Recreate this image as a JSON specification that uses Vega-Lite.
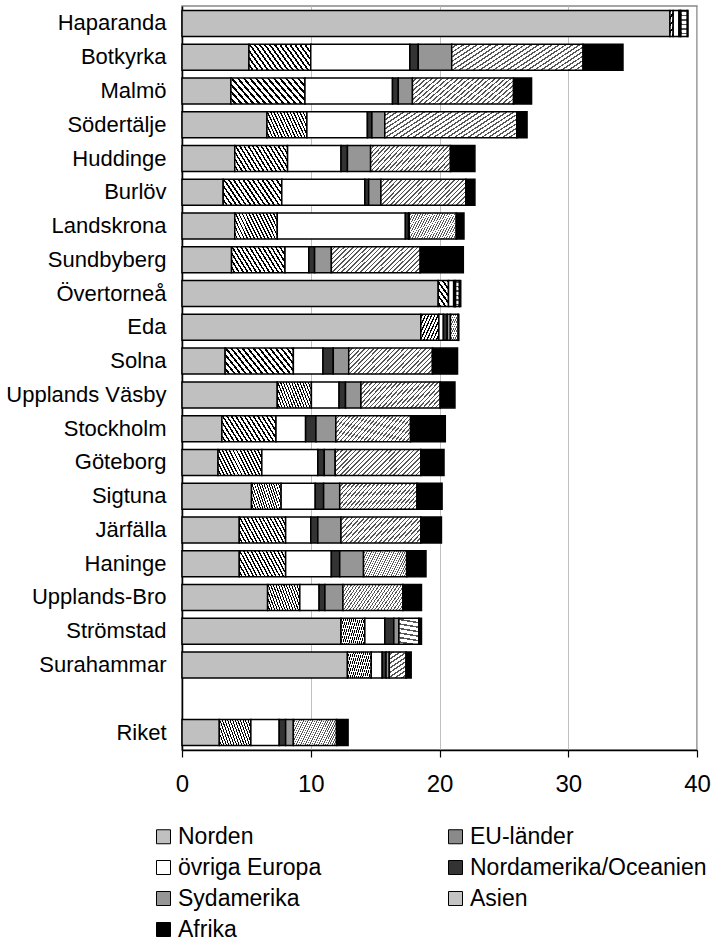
{
  "$schema": "https://vega.github.io/schema/vega-lite/v6.json",
  "width": 515,
  "height": 744,
  "autosize": {"type": "none"},
  "padding": {"left": 182, "top": 6, "right": 30, "bottom": 190},
  "config": {
    "font": "Liberation Sans",
    "view": {"stroke": "#888888", "strokeWidth": 1.5},
    "axis": {"labelColor": "black", "domainColor": "black", "tickColor": "black"},
    "legend": {"symbolStrokeColor": "black", "symbolStrokeWidth": 1}
  },
  "data": {
    "values": [
      {"kommun": "Haparanda", "region": "Norden", "andel": 37.9},
      {"kommun": "Haparanda", "region": "EU-länder", "andel": 0.25},
      {"kommun": "Haparanda", "region": "övriga Europa", "andel": 0.45},
      {"kommun": "Haparanda", "region": "Nordamerika/Oceanien", "andel": 0.1},
      {"kommun": "Haparanda", "region": "Sydamerika", "andel": 0.05},
      {"kommun": "Haparanda", "region": "Asien", "andel": 0.5},
      {"kommun": "Haparanda", "region": "Afrika", "andel": 0.05},
      {"kommun": "Botkyrka", "region": "Norden", "andel": 5.2},
      {"kommun": "Botkyrka", "region": "EU-länder", "andel": 4.8},
      {"kommun": "Botkyrka", "region": "övriga Europa", "andel": 7.7},
      {"kommun": "Botkyrka", "region": "Nordamerika/Oceanien", "andel": 0.65},
      {"kommun": "Botkyrka", "region": "Sydamerika", "andel": 2.6},
      {"kommun": "Botkyrka", "region": "Asien", "andel": 10.2},
      {"kommun": "Botkyrka", "region": "Afrika", "andel": 3.1},
      {"kommun": "Malmö", "region": "Norden", "andel": 3.8},
      {"kommun": "Malmö", "region": "EU-länder", "andel": 5.75},
      {"kommun": "Malmö", "region": "övriga Europa", "andel": 6.8},
      {"kommun": "Malmö", "region": "Nordamerika/Oceanien", "andel": 0.45},
      {"kommun": "Malmö", "region": "Sydamerika", "andel": 1.1},
      {"kommun": "Malmö", "region": "Asien", "andel": 7.85},
      {"kommun": "Malmö", "region": "Afrika", "andel": 1.4},
      {"kommun": "Södertälje", "region": "Norden", "andel": 6.6},
      {"kommun": "Södertälje", "region": "EU-länder", "andel": 3.1},
      {"kommun": "Södertälje", "region": "övriga Europa", "andel": 4.7},
      {"kommun": "Södertälje", "region": "Nordamerika/Oceanien", "andel": 0.35},
      {"kommun": "Södertälje", "region": "Sydamerika", "andel": 1.0},
      {"kommun": "Södertälje", "region": "Asien", "andel": 10.25},
      {"kommun": "Södertälje", "region": "Afrika", "andel": 0.8},
      {"kommun": "Huddinge", "region": "Norden", "andel": 4.1},
      {"kommun": "Huddinge", "region": "EU-länder", "andel": 4.1},
      {"kommun": "Huddinge", "region": "övriga Europa", "andel": 4.15},
      {"kommun": "Huddinge", "region": "Nordamerika/Oceanien", "andel": 0.5},
      {"kommun": "Huddinge", "region": "Sydamerika", "andel": 1.8},
      {"kommun": "Huddinge", "region": "Asien", "andel": 6.2},
      {"kommun": "Huddinge", "region": "Afrika", "andel": 1.9},
      {"kommun": "Burlöv", "region": "Norden", "andel": 3.2},
      {"kommun": "Burlöv", "region": "EU-länder", "andel": 4.55},
      {"kommun": "Burlöv", "region": "övriga Europa", "andel": 6.45},
      {"kommun": "Burlöv", "region": "Nordamerika/Oceanien", "andel": 0.3},
      {"kommun": "Burlöv", "region": "Sydamerika", "andel": 0.95},
      {"kommun": "Burlöv", "region": "Asien", "andel": 6.6},
      {"kommun": "Burlöv", "region": "Afrika", "andel": 0.7},
      {"kommun": "Landskrona", "region": "Norden", "andel": 4.1},
      {"kommun": "Landskrona", "region": "EU-länder", "andel": 3.3},
      {"kommun": "Landskrona", "region": "övriga Europa", "andel": 9.95},
      {"kommun": "Landskrona", "region": "Nordamerika/Oceanien", "andel": 0.25},
      {"kommun": "Landskrona", "region": "Sydamerika", "andel": 0.05},
      {"kommun": "Landskrona", "region": "Asien", "andel": 3.65},
      {"kommun": "Landskrona", "region": "Afrika", "andel": 0.6},
      {"kommun": "Sundbyberg", "region": "Norden", "andel": 3.85},
      {"kommun": "Sundbyberg", "region": "EU-länder", "andel": 4.15},
      {"kommun": "Sundbyberg", "region": "övriga Europa", "andel": 1.85},
      {"kommun": "Sundbyberg", "region": "Nordamerika/Oceanien", "andel": 0.45},
      {"kommun": "Sundbyberg", "region": "Sydamerika", "andel": 1.3},
      {"kommun": "Sundbyberg", "region": "Asien", "andel": 6.9},
      {"kommun": "Sundbyberg", "region": "Afrika", "andel": 3.35},
      {"kommun": "Övertorneå", "region": "Norden", "andel": 19.9},
      {"kommun": "Övertorneå", "region": "EU-länder", "andel": 0.8},
      {"kommun": "Övertorneå", "region": "övriga Europa", "andel": 0.4},
      {"kommun": "Övertorneå", "region": "Nordamerika/Oceanien", "andel": 0.1},
      {"kommun": "Övertorneå", "region": "Sydamerika", "andel": 0.05},
      {"kommun": "Övertorneå", "region": "Asien", "andel": 0.3},
      {"kommun": "Övertorneå", "region": "Afrika", "andel": 0.1},
      {"kommun": "Eda", "region": "Norden", "andel": 18.55},
      {"kommun": "Eda", "region": "EU-länder", "andel": 1.4},
      {"kommun": "Eda", "region": "övriga Europa", "andel": 0.35},
      {"kommun": "Eda", "region": "Nordamerika/Oceanien", "andel": 0.3},
      {"kommun": "Eda", "region": "Sydamerika", "andel": 0.25},
      {"kommun": "Eda", "region": "Asien", "andel": 0.6},
      {"kommun": "Eda", "region": "Afrika", "andel": 0.05},
      {"kommun": "Solna", "region": "Norden", "andel": 3.35},
      {"kommun": "Solna", "region": "EU-länder", "andel": 5.3},
      {"kommun": "Solna", "region": "övriga Europa", "andel": 2.3},
      {"kommun": "Solna", "region": "Nordamerika/Oceanien", "andel": 0.8},
      {"kommun": "Solna", "region": "Sydamerika", "andel": 1.2},
      {"kommun": "Solna", "region": "Asien", "andel": 6.5},
      {"kommun": "Solna", "region": "Afrika", "andel": 1.95},
      {"kommun": "Upplands Väsby", "region": "Norden", "andel": 7.4},
      {"kommun": "Upplands Väsby", "region": "EU-länder", "andel": 2.65},
      {"kommun": "Upplands Väsby", "region": "övriga Europa", "andel": 2.15},
      {"kommun": "Upplands Väsby", "region": "Nordamerika/Oceanien", "andel": 0.5},
      {"kommun": "Upplands Väsby", "region": "Sydamerika", "andel": 1.2},
      {"kommun": "Upplands Väsby", "region": "Asien", "andel": 6.15},
      {"kommun": "Upplands Väsby", "region": "Afrika", "andel": 1.15},
      {"kommun": "Stockholm", "region": "Norden", "andel": 3.1},
      {"kommun": "Stockholm", "region": "EU-länder", "andel": 4.2},
      {"kommun": "Stockholm", "region": "övriga Europa", "andel": 2.3},
      {"kommun": "Stockholm", "region": "Nordamerika/Oceanien", "andel": 0.8},
      {"kommun": "Stockholm", "region": "Sydamerika", "andel": 1.55},
      {"kommun": "Stockholm", "region": "Asien", "andel": 5.8},
      {"kommun": "Stockholm", "region": "Afrika", "andel": 2.7},
      {"kommun": "Göteborg", "region": "Norden", "andel": 2.8},
      {"kommun": "Göteborg", "region": "EU-länder", "andel": 3.4},
      {"kommun": "Göteborg", "region": "övriga Europa", "andel": 4.35},
      {"kommun": "Göteborg", "region": "Nordamerika/Oceanien", "andel": 0.5},
      {"kommun": "Göteborg", "region": "Sydamerika", "andel": 0.85},
      {"kommun": "Göteborg", "region": "Asien", "andel": 6.65},
      {"kommun": "Göteborg", "region": "Afrika", "andel": 1.8},
      {"kommun": "Sigtuna", "region": "Norden", "andel": 5.4},
      {"kommun": "Sigtuna", "region": "EU-länder", "andel": 2.3},
      {"kommun": "Sigtuna", "region": "övriga Europa", "andel": 2.65},
      {"kommun": "Sigtuna", "region": "Nordamerika/Oceanien", "andel": 0.65},
      {"kommun": "Sigtuna", "region": "Sydamerika", "andel": 1.25},
      {"kommun": "Sigtuna", "region": "Asien", "andel": 6.0},
      {"kommun": "Sigtuna", "region": "Afrika", "andel": 1.95},
      {"kommun": "Järfälla", "region": "Norden", "andel": 4.45},
      {"kommun": "Järfälla", "region": "EU-länder", "andel": 3.6},
      {"kommun": "Järfälla", "region": "övriga Europa", "andel": 1.95},
      {"kommun": "Järfälla", "region": "Nordamerika/Oceanien", "andel": 0.55},
      {"kommun": "Järfälla", "region": "Sydamerika", "andel": 1.8},
      {"kommun": "Järfälla", "region": "Asien", "andel": 6.2},
      {"kommun": "Järfälla", "region": "Afrika", "andel": 1.6},
      {"kommun": "Haninge", "region": "Norden", "andel": 4.45},
      {"kommun": "Haninge", "region": "EU-länder", "andel": 3.6},
      {"kommun": "Haninge", "region": "övriga Europa", "andel": 3.55},
      {"kommun": "Haninge", "region": "Nordamerika/Oceanien", "andel": 0.65},
      {"kommun": "Haninge", "region": "Sydamerika", "andel": 1.85},
      {"kommun": "Haninge", "region": "Asien", "andel": 3.35},
      {"kommun": "Haninge", "region": "Afrika", "andel": 1.5},
      {"kommun": "Upplands-Bro", "region": "Norden", "andel": 6.65},
      {"kommun": "Upplands-Bro", "region": "EU-länder", "andel": 2.5},
      {"kommun": "Upplands-Bro", "region": "övriga Europa", "andel": 1.5},
      {"kommun": "Upplands-Bro", "region": "Nordamerika/Oceanien", "andel": 0.45},
      {"kommun": "Upplands-Bro", "region": "Sydamerika", "andel": 1.4},
      {"kommun": "Upplands-Bro", "region": "Asien", "andel": 4.65},
      {"kommun": "Upplands-Bro", "region": "Afrika", "andel": 1.45},
      {"kommun": "Strömstad", "region": "Norden", "andel": 12.35},
      {"kommun": "Strömstad", "region": "EU-länder", "andel": 1.85},
      {"kommun": "Strömstad", "region": "övriga Europa", "andel": 1.55},
      {"kommun": "Strömstad", "region": "Nordamerika/Oceanien", "andel": 0.7},
      {"kommun": "Strömstad", "region": "Sydamerika", "andel": 0.4},
      {"kommun": "Strömstad", "region": "Asien", "andel": 1.55},
      {"kommun": "Strömstad", "region": "Afrika", "andel": 0.2},
      {"kommun": "Surahammar", "region": "Norden", "andel": 12.85},
      {"kommun": "Surahammar", "region": "EU-länder", "andel": 1.85},
      {"kommun": "Surahammar", "region": "övriga Europa", "andel": 0.85},
      {"kommun": "Surahammar", "region": "Nordamerika/Oceanien", "andel": 0.3},
      {"kommun": "Surahammar", "region": "Sydamerika", "andel": 0.25},
      {"kommun": "Surahammar", "region": "Asien", "andel": 1.3},
      {"kommun": "Surahammar", "region": "Afrika", "andel": 0.4},
      {"kommun": "Riket", "region": "Norden", "andel": 2.9},
      {"kommun": "Riket", "region": "EU-länder", "andel": 2.45},
      {"kommun": "Riket", "region": "övriga Europa", "andel": 2.2},
      {"kommun": "Riket", "region": "Nordamerika/Oceanien", "andel": 0.5},
      {"kommun": "Riket", "region": "Sydamerika", "andel": 0.6},
      {"kommun": "Riket", "region": "Asien", "andel": 3.35},
      {"kommun": "Riket", "region": "Afrika", "andel": 0.9}
    ]
  },
  "transform": [
    {"calculate": "indexof(['Norden','EU-länder','övriga Europa','Nordamerika/Oceanien','Sydamerika','Asien','Afrika'], datum.region)", "as": "ord"}
  ],
  "mark": {"type": "bar", "stroke": "black", "strokeWidth": 1.5},
  "encoding": {
    "y": {
      "field": "kommun",
      "type": "nominal",
      "sort": null,
      "scale": {
        "domain": ["Haparanda", "Botkyrka", "Malmö", "Södertälje", "Huddinge", "Burlöv", "Landskrona", "Sundbyberg", "Övertorneå", "Eda", "Solna", "Upplands Väsby", "Stockholm", "Göteborg", "Sigtuna", "Järfälla", "Haninge", "Upplands-Bro", "Strömstad", "Surahammar", " ", "Riket"],
        "paddingInner": 0.23,
        "paddingOuter": 0.133
      },
      "axis": {"title": null, "ticks": false, "grid": false, "domainColor": "black", "domainWidth": 1.5, "labelFontSize": 22, "labelColor": "black", "labelPadding": 16, "labelFont": "Liberation Sans"}
    },
    "x": {
      "field": "andel",
      "type": "quantitative",
      "stack": "zero",
      "scale": {"domain": [0, 40], "nice": false},
      "axis": {"title": null, "values": [0, 10, 20, 30, 40], "grid": true, "gridColor": "#c0c0c0", "gridWidth": 1, "domainColor": "black", "domainWidth": 1.5, "tickColor": "black", "tickSize": 7, "tickWidth": 1.2, "labelFontSize": 24, "labelColor": "black", "labelPadding": 15, "labelFlush": false, "labelFont": "Liberation Sans"}
    },
    "order": {"field": "ord", "type": "quantitative"},
    "color": {
      "field": "region",
      "type": "nominal",
      "scale": {
        "domain": ["Norden", "EU-länder", "övriga Europa", "Nordamerika/Oceanien", "Sydamerika", "Asien", "Afrika"],
        "range": ["#c0c0c0", "#8a8a8a", "#ffffff", "#333333", "#969696", "#c3c3c3", "#000000"]
      },
      "condition": [
        {"test": "datum.region === 'EU-länder'", "value": {"gradient": "linear", "x1": 0, "y1": 1, "x2": 1.193, "y2": 0.642, "stops": [
          {"offset": 0, "color": "#ffffff"}, {"offset": 0.0375, "color": "#ffffff"}, {"offset": 0.0375, "color": "#000000"}, {"offset": 0.0625, "color": "#000000"},
          {"offset": 0.0625, "color": "#ffffff"}, {"offset": 0.1, "color": "#ffffff"}, {"offset": 0.1, "color": "#000000"}, {"offset": 0.125, "color": "#000000"},
          {"offset": 0.125, "color": "#ffffff"}, {"offset": 0.1625, "color": "#ffffff"}, {"offset": 0.1625, "color": "#000000"}, {"offset": 0.1875, "color": "#000000"},
          {"offset": 0.1875, "color": "#ffffff"}, {"offset": 0.225, "color": "#ffffff"}, {"offset": 0.225, "color": "#000000"}, {"offset": 0.25, "color": "#000000"},
          {"offset": 0.25, "color": "#ffffff"}, {"offset": 0.2875, "color": "#ffffff"}, {"offset": 0.2875, "color": "#000000"}, {"offset": 0.3125, "color": "#000000"},
          {"offset": 0.3125, "color": "#ffffff"}, {"offset": 0.35, "color": "#ffffff"}, {"offset": 0.35, "color": "#000000"}, {"offset": 0.375, "color": "#000000"},
          {"offset": 0.375, "color": "#ffffff"}, {"offset": 0.4125, "color": "#ffffff"}, {"offset": 0.4125, "color": "#000000"}, {"offset": 0.4375, "color": "#000000"},
          {"offset": 0.4375, "color": "#ffffff"}, {"offset": 0.475, "color": "#ffffff"}, {"offset": 0.475, "color": "#000000"}, {"offset": 0.5, "color": "#000000"},
          {"offset": 0.5, "color": "#ffffff"}, {"offset": 0.5375, "color": "#ffffff"}, {"offset": 0.5375, "color": "#000000"}, {"offset": 0.5625, "color": "#000000"},
          {"offset": 0.5625, "color": "#ffffff"}, {"offset": 0.6, "color": "#ffffff"}, {"offset": 0.6, "color": "#000000"}, {"offset": 0.625, "color": "#000000"},
          {"offset": 0.625, "color": "#ffffff"}, {"offset": 0.6625, "color": "#ffffff"}, {"offset": 0.6625, "color": "#000000"}, {"offset": 0.6875, "color": "#000000"},
          {"offset": 0.6875, "color": "#ffffff"}, {"offset": 0.725, "color": "#ffffff"}, {"offset": 0.725, "color": "#000000"}, {"offset": 0.75, "color": "#000000"},
          {"offset": 0.75, "color": "#ffffff"}, {"offset": 0.7875, "color": "#ffffff"}, {"offset": 0.7875, "color": "#000000"}, {"offset": 0.8125, "color": "#000000"},
          {"offset": 0.8125, "color": "#ffffff"}, {"offset": 0.85, "color": "#ffffff"}, {"offset": 0.85, "color": "#000000"}, {"offset": 0.875, "color": "#000000"},
          {"offset": 0.875, "color": "#ffffff"}, {"offset": 0.9125, "color": "#ffffff"}, {"offset": 0.9125, "color": "#000000"}, {"offset": 0.9375, "color": "#000000"},
          {"offset": 0.9375, "color": "#ffffff"}, {"offset": 0.975, "color": "#ffffff"}, {"offset": 0.975, "color": "#000000"}, {"offset": 1, "color": "#000000"}
        ]}},
        {"test": "datum.region === 'Asien'", "value": {"gradient": "linear", "x1": 0, "y1": 0, "x2": 1.193, "y2": 0.358, "stops": [
          {"offset": 0, "color": "#ffffff"}, {"offset": 0.026, "color": "#ffffff"}, {"offset": 0.026, "color": "#555555"}, {"offset": 0.04, "color": "#555555"},
          {"offset": 0.04, "color": "#ffffff"}, {"offset": 0.066, "color": "#ffffff"}, {"offset": 0.066, "color": "#555555"}, {"offset": 0.08, "color": "#555555"},
          {"offset": 0.08, "color": "#ffffff"}, {"offset": 0.106, "color": "#ffffff"}, {"offset": 0.106, "color": "#555555"}, {"offset": 0.12, "color": "#555555"},
          {"offset": 0.12, "color": "#ffffff"}, {"offset": 0.146, "color": "#ffffff"}, {"offset": 0.146, "color": "#555555"}, {"offset": 0.16, "color": "#555555"},
          {"offset": 0.16, "color": "#ffffff"}, {"offset": 0.186, "color": "#ffffff"}, {"offset": 0.186, "color": "#555555"}, {"offset": 0.2, "color": "#555555"},
          {"offset": 0.2, "color": "#ffffff"}, {"offset": 0.226, "color": "#ffffff"}, {"offset": 0.226, "color": "#555555"}, {"offset": 0.24, "color": "#555555"},
          {"offset": 0.24, "color": "#ffffff"}, {"offset": 0.266, "color": "#ffffff"}, {"offset": 0.266, "color": "#555555"}, {"offset": 0.28, "color": "#555555"},
          {"offset": 0.28, "color": "#ffffff"}, {"offset": 0.306, "color": "#ffffff"}, {"offset": 0.306, "color": "#555555"}, {"offset": 0.32, "color": "#555555"},
          {"offset": 0.32, "color": "#ffffff"}, {"offset": 0.346, "color": "#ffffff"}, {"offset": 0.346, "color": "#555555"}, {"offset": 0.36, "color": "#555555"},
          {"offset": 0.36, "color": "#ffffff"}, {"offset": 0.386, "color": "#ffffff"}, {"offset": 0.386, "color": "#555555"}, {"offset": 0.4, "color": "#555555"},
          {"offset": 0.4, "color": "#ffffff"}, {"offset": 0.426, "color": "#ffffff"}, {"offset": 0.426, "color": "#555555"}, {"offset": 0.44, "color": "#555555"},
          {"offset": 0.44, "color": "#ffffff"}, {"offset": 0.466, "color": "#ffffff"}, {"offset": 0.466, "color": "#555555"}, {"offset": 0.48, "color": "#555555"},
          {"offset": 0.48, "color": "#ffffff"}, {"offset": 0.506, "color": "#ffffff"}, {"offset": 0.506, "color": "#555555"}, {"offset": 0.52, "color": "#555555"},
          {"offset": 0.52, "color": "#ffffff"}, {"offset": 0.546, "color": "#ffffff"}, {"offset": 0.546, "color": "#555555"}, {"offset": 0.56, "color": "#555555"},
          {"offset": 0.56, "color": "#ffffff"}, {"offset": 0.586, "color": "#ffffff"}, {"offset": 0.586, "color": "#555555"}, {"offset": 0.6, "color": "#555555"},
          {"offset": 0.6, "color": "#ffffff"}, {"offset": 0.626, "color": "#ffffff"}, {"offset": 0.626, "color": "#555555"}, {"offset": 0.64, "color": "#555555"},
          {"offset": 0.64, "color": "#ffffff"}, {"offset": 0.666, "color": "#ffffff"}, {"offset": 0.666, "color": "#555555"}, {"offset": 0.68, "color": "#555555"},
          {"offset": 0.68, "color": "#ffffff"}, {"offset": 0.706, "color": "#ffffff"}, {"offset": 0.706, "color": "#555555"}, {"offset": 0.72, "color": "#555555"},
          {"offset": 0.72, "color": "#ffffff"}, {"offset": 0.746, "color": "#ffffff"}, {"offset": 0.746, "color": "#555555"}, {"offset": 0.76, "color": "#555555"},
          {"offset": 0.76, "color": "#ffffff"}, {"offset": 0.786, "color": "#ffffff"}, {"offset": 0.786, "color": "#555555"}, {"offset": 0.8, "color": "#555555"},
          {"offset": 0.8, "color": "#ffffff"}, {"offset": 0.826, "color": "#ffffff"}, {"offset": 0.826, "color": "#555555"}, {"offset": 0.84, "color": "#555555"},
          {"offset": 0.84, "color": "#ffffff"}, {"offset": 0.866, "color": "#ffffff"}, {"offset": 0.866, "color": "#555555"}, {"offset": 0.88, "color": "#555555"},
          {"offset": 0.88, "color": "#ffffff"}, {"offset": 0.906, "color": "#ffffff"}, {"offset": 0.906, "color": "#555555"}, {"offset": 0.92, "color": "#555555"},
          {"offset": 0.92, "color": "#ffffff"}, {"offset": 0.946, "color": "#ffffff"}, {"offset": 0.946, "color": "#555555"}, {"offset": 0.96, "color": "#555555"},
          {"offset": 0.96, "color": "#ffffff"}, {"offset": 0.986, "color": "#ffffff"}, {"offset": 0.986, "color": "#555555"}, {"offset": 1, "color": "#555555"}
        ]}}
      ],
      "legend": {
        "title": null,
        "orient": "none",
        "legendX": -30,
        "legendY": 819,
        "direction": "horizontal",
        "columns": 2,
        "columnPadding": 122,
        "rowPadding": 7,
        "padding": 0,
        "symbolType": "square",
        "symbolSize": 196,
        "symbolStrokeColor": "black",
        "symbolStrokeWidth": 1,
        "labelFontSize": 23,
        "labelFont": "Liberation Sans",
        "labelColor": "black",
        "labelOffset": 3,
        "labelLimit": 400
      }
    }
  }
}
